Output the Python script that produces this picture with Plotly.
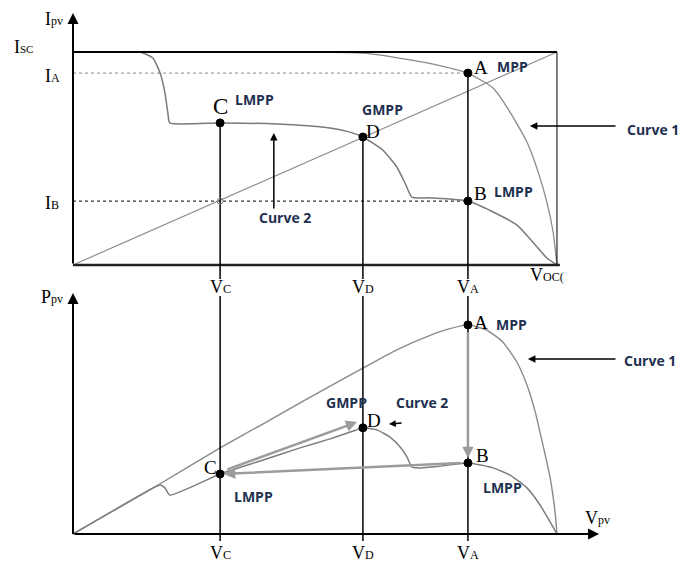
import plotly.graph_objects as go

# ---- operating points (normalised: V_oc = 1, I_sc = 1) ----
V_C, V_D, V_A, V_OC = 0.304, 0.599, 0.816, 1.0
I_SC, I_A, I_B, I_C, I_D = 1.0, 0.901, 0.300, 0.667, 0.601
P_A, P_B, P_C, P_D = 0.721, 0.245, 0.207, 0.366

# ---- I-V characteristics ----
curve1_iv_v = [0, 0.3, 0.5, 0.6, 0.7, 0.76, 0.816, 0.868, 0.903, 0.938, 0.961, 0.979, 0.992, 1.0]
curve1_iv_i = [1, 1, 1.0, 0.995, 0.962, 0.935, 0.901, 0.831, 0.718, 0.577, 0.437, 0.296, 0.155, 0]

curve2_iv_v = [0, 0.12, 0.138, 0.165, 0.180, 0.190, 0.196, 0.200, 0.304, 0.40, 0.463, 0.531,
               0.57, 0.599, 0.640, 0.669, 0.686, 0.700, 0.738, 0.816, 0.868, 0.917, 0.950, 0.979, 1.0]
curve2_iv_i = [1, 1, 1.0, 0.972, 0.901, 0.808, 0.714, 0.667, 0.667, 0.664, 0.657, 0.643,
               0.625, 0.601, 0.540, 0.460, 0.385, 0.319, 0.315, 0.300, 0.249, 0.188, 0.108, 0.033, 0]

# ---- P-V characteristics ----
curve1_pv_v = [0, 0.169, 0.304, 0.393, 0.483, 0.599, 0.669, 0.738, 0.779, 0.816, 0.855, 0.888,
               0.917, 0.938, 0.955, 0.971, 0.986, 0.996, 1.0]
curve1_pv_p = [0, 0.162, 0.297, 0.380, 0.465, 0.572, 0.635, 0.685, 0.708, 0.721, 0.703, 0.662,
               0.593, 0.514, 0.421, 0.307, 0.193, 0.076, 0]

curve2_pv_v = [0, 0.169, 0.180, 0.190, 0.200, 0.304, 0.393, 0.469, 0.531, 0.579, 0.599, 0.628,
               0.655, 0.676, 0.690, 0.700, 0.711, 0.758, 0.816, 0.868, 0.903, 0.938, 0.965, 0.986, 1.0]
curve2_pv_p = [0, 0.162, 0.169, 0.159, 0.134, 0.207, 0.255, 0.297, 0.328, 0.355, 0.366, 0.359,
               0.334, 0.300, 0.266, 0.231, 0.228, 0.234, 0.245, 0.228, 0.203, 0.159, 0.100, 0.041, 0]

SERIF = "Liberation Serif"
SANS = "Open Sans"
NAVY = "#22304f"
CURVE_GREY = "#8a8a8a"
ARROW_GREY = "#9c9c9c"
TAG_SIZE = 14

fig = go.Figure()


def line(xs, ys, axis="y", color="black", width=1.5, dash="solid", shape="linear"):
    fig.add_trace(go.Scatter(x=xs, y=ys, yaxis=axis, mode="lines", hoverinfo="skip",
                             line=dict(color=color, width=width, dash=dash, shape=shape,
                                       smoothing=0.5)))


def dots(xs, ys, axis="y", symbol="circle", size=8, color="black"):
    fig.add_trace(go.Scatter(x=xs, y=ys, yaxis=axis, mode="markers", hoverinfo="skip",
                             marker=dict(symbol=symbol, size=size, color=color,
                                         line=dict(color=color, width=1))))


def label(x, y, text, axis="y", font=SERIF, size=18, color="black", weight="normal"):
    fig.add_annotation(x=x, y=y, xref="x", yref=axis, text=text, showarrow=False,
                       font=dict(family=font, size=size, color=color, weight=weight),
                       xanchor="center", yanchor="middle")


def tag(x, y, text, axis="y"):
    label(x, y, text, axis=axis, font=SANS, size=TAG_SIZE, color=NAVY, weight="bold")


def arrow(x0, y0, x1, y1, axis="y", color="black", width=1.5, head=2, size=1.0):
    fig.add_annotation(x=x1, y=y1, ax=x0, ay=y0, xref="x", yref=axis, axref="x", ayref=axis,
                       text="", showarrow=True, arrowhead=head, arrowsize=size,
                       arrowwidth=width, arrowcolor=color, standoff=0, startstandoff=0)


def sub(main, small, px=12):
    return f"{main}<span style='font-size:{px}px'>{small}</span>"


# ================= upper panel: I-V =================
# reference levels
line([0, V_A], [I_A, I_A], color="#a0a0a0", width=1.2, dash="dot")
line([0, V_A], [I_B, I_B], color="#333333", width=1.2, dash="dot")
# load line through the origin
line([0, V_OC], [0, I_SC], color="#8c8c8c", width=1.2)
# characteristics
line(curve1_iv_v, curve1_iv_i, color=CURVE_GREY, width=1.3, shape="spline")
line(curve2_iv_v, curve2_iv_i, color="#7a7a7a", width=1.5, shape="spline")
# frame
line([0, V_OC], [I_SC, I_SC], color="black", width=2)
line([V_OC, V_OC], [0, I_SC], color="black", width=1)
line([0, V_OC + 0.006], [0, 0], color="#222222", width=2.5)
arrow(0, 0, 0, 1.183, color="black", width=2, head=2, size=1.1)
# voltage markers
line([V_C, V_C], [I_C, -0.066])
line([V_D, V_D], [I_D, -0.066])
line([V_A, V_A], [I_A, -0.066])
dots([V_C, V_D, V_A, V_A], [I_C, I_D, I_A, I_B])
dots([V_C], [I_B], symbol="circle-open", size=6, color="#888888")

label(-0.039, 1.155, sub("I", "pv"))
label(-0.103, 1.023, sub("I", "SC", 11))
label(-0.043, 0.887, sub("I", "A"))
label(-0.043, 0.291, sub("I", "B"))
label(V_C, 0.742, "C", size=23)
tag(0.376, 0.775, "LMPP")
tag(0.640, 0.728, "GMPP")
label(0.620, 0.629, "D", size=19)
label(0.843, 0.925, "A", size=19)
tag(0.909, 0.930, "MPP")
label(0.843, 0.338, "B", size=19)
tag(0.911, 0.347, "LMPP")
tag(0.438, 0.221, "Curve 2")
arrow(0.415, 0.258, 0.415, 0.620, width=1.5)
tag(1.198, 0.638, "Curve 1")
arrow(1.124, 0.653, 0.944, 0.653, width=1.5)
label(V_C, -0.103, sub("V", "C"))
label(V_D, -0.103, sub("V", "D"))
label(V_A, -0.103, sub("V", "A"))
label(0.979, -0.047, sub("V", "OC(", 12))

# ================= lower panel: P-V =================
line(curve1_pv_v, curve1_pv_p, axis="y2", color=CURVE_GREY, width=1.4, shape="spline")
line(curve2_pv_v, curve2_pv_p, axis="y2", color="#7e7e7e", width=1.5, shape="spline")
# axes
line([0, 0], [0, 0.70], axis="y2", color="black", width=2)
arrow(0, 0, 0, 0.831, axis="y2", width=2, head=2, size=1.1)
arrow(0, 0, 1.087, 0, axis="y2", width=2, head=2, size=1.1)
# voltage markers
line([V_C, V_C], [0.821, -0.024], axis="y2")
line([V_D, V_D], [0.821, -0.024], axis="y2")
line([V_A, V_A], [0.821, -0.024], axis="y2")
# tracking path A -> B -> C -> D
arrow(V_A, P_A - 0.02, V_A, P_B + 0.017, axis="y2", color=ARROW_GREY, width=2.5, head=2, size=0.9)
arrow(V_A - 0.012, P_B, V_C + 0.008, P_C, axis="y2", color=ARROW_GREY, width=2.5, head=2, size=0.9)
arrow(V_C + 0.012, P_C + 0.014, V_D - 0.012, P_D + 0.02, axis="y2", color=ARROW_GREY, width=2.5,
      head=2, size=0.9)
dots([V_A, V_A, V_D, V_C], [P_A, P_B, P_D, P_C], axis="y2")

label(-0.043, 0.817, sub("P", "pv"), axis="y2")
label(0.843, 0.731, "A", axis="y2", size=19)
tag(0.907, 0.721, "MPP", axis="y2")
label(0.847, 0.272, "B", axis="y2", size=19)
tag(0.888, 0.162, "LMPP", axis="y2")
tag(1.192, 0.597, "Curve 1", axis="y2")
arrow(1.124, 0.603, 0.940, 0.603, axis="y2", width=1.5)
label(0.622, 0.393, "D", axis="y2", size=19)
tag(0.566, 0.452, "GMPP", axis="y2")
tag(0.721, 0.452, "Curve 2", axis="y2")
arrow(0.682, 0.383, 0.653, 0.379, axis="y2", width=1.5, size=0.9)
label(0.285, 0.231, "C", axis="y2", size=19)
tag(0.372, 0.131, "LMPP", axis="y2")
label(V_C, -0.066, sub("V", "C"), axis="y2")
label(V_D, -0.066, sub("V", "D"), axis="y2")
label(V_A, -0.066, sub("V", "A"), axis="y2")
label(1.083, 0.055, sub("V", "pv"), axis="y2")

fig.update_layout(
    width=697, height=562,
    margin=dict(l=0, r=0, t=0, b=0),
    paper_bgcolor="white", plot_bgcolor="white",
    showlegend=False,
    xaxis=dict(range=[-0.1508, 1.2893], visible=False, fixedrange=True),
    yaxis=dict(range=[-1.3944, 1.2441], visible=False, fixedrange=True),
    yaxis2=dict(range=[-0.0966, 1.8414], visible=False, fixedrange=True, overlaying="y"),
)

fig.write_html("out.html")
